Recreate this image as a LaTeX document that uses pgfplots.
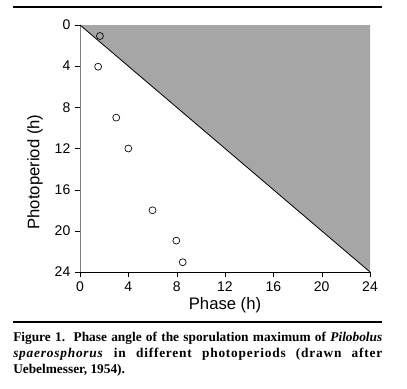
\documentclass[border=0pt]{standalone}
\usepackage{fontspec}
\setmainfont{Liberation Sans}
\newfontfamily\capfont{Liberation Serif}
\newfontfamily\capspread[LetterSpace=6]{Liberation Serif}
\usepackage{pgfplots}
\pgfplotsset{compat=1.18}
\definecolor{shade}{RGB}{166,166,166}
\begin{document}
\begin{tikzpicture}
\path (0pt,0pt) rectangle (305.25pt,291.75pt);
\draw[line width=2.2pt] (9.75pt,286.5pt) -- (286.5pt,286.5pt);
\draw[line width=1.5pt] (9.75pt,49.9pt) -- (286.5pt,49.9pt);
\begin{axis}[
  at={(60pt,87.75pt)}, anchor=south west,
  scale only axis, width=217.5pt, height=185.25pt,
  xmin=0, xmax=24, ymin=0, ymax=24, y dir=reverse,
  axis x line=bottom, axis y line=left,
  axis line style={-},
  y axis line style={gray},
  xtick={0,4,...,24}, ytick={0,4,...,24},
  tick align=outside, major tick length=3.75pt,
  tick style={black},
  /pgf/number format/assume math mode=true,
  tick label style={font=\fontsize{10.5}{12}\selectfont},
  label style={font=\fontsize{12.5}{14}\selectfont},
  xlabel={Phase (h)}, ylabel={Photoperiod (h)},
  xlabel style={at={(axis description cs:0.5,-0.134)}, anchor=center},
  ylabel style={at={(axis description cs:-0.155,0.405)}, anchor=center},
  clip=false,
]
\addplot[fill=shade, draw=none] coordinates {(0,0) (24,0) (24,24)} -- cycle;
\addplot[black, line width=0.6pt] coordinates {(0,0) (24,24)};
\addplot[only marks, mark=o, mark size=2.6pt, mark options={fill=white, draw=black, line width=0.5pt}]
  coordinates {(1.65,1.07) (1.5,4.05) (3.0,9.0) (4.0,12.0) (6.0,18.0) (7.97,20.95) (8.5,23.05)};
\end{axis}
\node[anchor=north west, inner sep=0pt, text width=276.75pt, align=justify] at (9.75pt,43pt)
 {\capfont\bfseries\fontsize{10}{9.75}\selectfont Figure 1.\ \ Phase angle of the sporulation maximum of \textit{Pilobolus}\linebreak {\capspread\bfseries\textit{spaerosphorus} in different photoperiods (drawn after}\linebreak Uebelmesser, 1954).};
\end{tikzpicture}
\end{document}
